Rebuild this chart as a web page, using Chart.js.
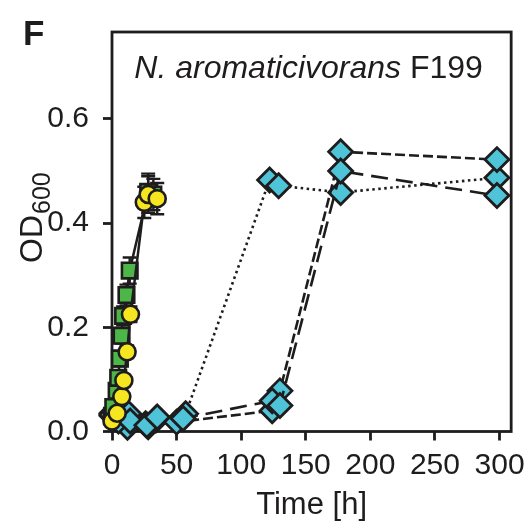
<!DOCTYPE html>
<html>
<head>
<meta charset="utf-8">
<script src="https://cdn.jsdelivr.net/npm/chart.js@4/dist/chart.umd.min.js"></script>
<style>
  html, body { margin: 0; padding: 0; background: #fff; }
  #wrap { width: 532px; height: 522px; }
</style>
</head>
<body>
<div id="wrap"><canvas id="growthchart" width="532" height="522"></canvas></div>
<script>
// tick labels
const xTicks = [0, 50, 100, 150, 200, 250, 300];
const yTicks = [0.0, 0.2, 0.4, 0.6];

// green squares (solid line)
const squareTime = [0, 1, 3.6, 4.8, 6.1, 7.4, 8.6, 11.2, 13.7, 28, 32];
const squareOD   = [0.03, 0.047, 0.078, 0.103, 0.14, 0.184, 0.222, 0.262, 0.309, 0.46, 0.455];
const squareErr  = [0.005, 0.008, 0.01, 0.012, 0.015, 0.015, 0.018, 0.02, 0.025, 0.035, 0.03];

// yellow circles (solid line)
const circleTime = [0, 4, 7.6, 9.2, 11.7, 14.3, 25, 28, 35];
const circleOD   = [0.02, 0.035, 0.067, 0.098, 0.153, 0.225, 0.44, 0.455, 0.447];
const circleErr  = [0.005, 0.006, 0.008, 0.01, 0.012, 0.015, 0.03, 0.035, 0.03];

// cyan diamonds, three replicates
const dottedTime = [0, 5, 13, 26, 34, 57, 122, 129, 177, 298];
const dottedOD   = [0.035, 0.03, 0.034, 0.015, 0.025, 0.034, 0.483, 0.472, 0.459, 0.487];
const shortTime  = [0, 5, 12, 28, 34, 50, 124, 130, 177, 298];
const shortOD    = [0.03, 0.025, 0.008, 0.009, 0.022, 0.018, 0.04, 0.078, 0.537, 0.522];
const longTime   = [0, 5, 14, 27, 35, 55, 124, 130, 177, 298];
const longOD     = [0.032, 0.02, 0.02, 0.012, 0.028, 0.025, 0.059, 0.05, 0.5, 0.453];

const ink = '#1e1c1d';
const fontFamily = '"Liberation Sans", Arial, sans-serif';
const pts = (xs, ys) => xs.map((x, i) => ({ x: x, y: ys[i] }));

function diamonds(xs, ys, dash, order) {
  return {
    data: pts(xs, ys),
    borderColor: ink,
    borderWidth: 2.6,
    borderDash: dash,
    pointStyle: 'rectRot',
    pointRadius: 12,
    pointBackgroundColor: '#4fc3d7',
    pointBorderColor: ink,
    pointBorderWidth: 2.8,
    order: order
  };
}

// vertical error bars with caps
const errorBars = {
  id: 'errorBars',
  beforeDatasetsDraw(chart) {
    const ctx = chart.ctx;
    const xs = chart.scales.x, ys = chart.scales.y;
    ctx.save();
    ctx.strokeStyle = ink;
    ctx.lineWidth = 2.4;
    chart.data.datasets.forEach(ds => {
      if (!ds.errors) return;
      ds.data.forEach((p, i) => {
        const px = xs.getPixelForValue(p.x);
        const top = ys.getPixelForValue(p.y + ds.errors[i]);
        const bot = ys.getPixelForValue(p.y - ds.errors[i]);
        ctx.beginPath();
        ctx.moveTo(px, top); ctx.lineTo(px, bot);
        ctx.moveTo(px - 7, top); ctx.lineTo(px + 7, top);
        ctx.moveTo(px - 7, bot); ctx.lineTo(px + 7, bot);
        ctx.stroke();
      });
    });
    ctx.restore();
  }
};

// frame, panel letter, inner title, y axis title with subscript
const decorations = {
  id: 'decorations',
  beforeDatasetsDraw(chart) {
    const ctx = chart.ctx;
    const a = chart.chartArea;
    ctx.save();
    ctx.strokeStyle = ink;
    ctx.lineWidth = 2.8;
    ctx.strokeRect(a.left, a.top, a.right - a.left, a.bottom - a.top);
    ctx.restore();
  },
  afterDraw(chart) {
    const ctx = chart.ctx;
    const a = chart.chartArea;
    ctx.save();
    ctx.fillStyle = ink;
    ctx.textBaseline = 'alphabetic';

    ctx.font = 'bold 35px ' + fontFamily;
    ctx.fillText('F', 23, 45);

    const italicPart = 'N. aromaticivorans ';
    const plainPart = 'F199';
    ctx.font = 'italic 32px ' + fontFamily;
    const w1 = ctx.measureText(italicPart).width;
    ctx.font = '32px ' + fontFamily;
    const w2 = ctx.measureText(plainPart).width;
    const tx = (a.left + a.right) / 2 - (w1 + w2) / 2 - 3;
    ctx.font = 'italic 32px ' + fontFamily;
    ctx.fillText(italicPart, tx, 78);
    ctx.font = '32px ' + fontFamily;
    ctx.fillText(plainPart, tx + w1, 78);

    ctx.translate(42, 263);
    ctx.rotate(-Math.PI / 2);
    ctx.font = '32px ' + fontFamily;
    ctx.fillText('OD', 0, 0);
    const wod = ctx.measureText('OD').width;
    ctx.font = '25px ' + fontFamily;
    ctx.fillText('600', wod + 1, 8);
    ctx.restore();
  }
};

const tickFont = { family: fontFamily, size: 30 };

new Chart(document.getElementById('growthchart'), {
  type: 'line',
  data: {
    datasets: [
      {
        data: pts(circleTime, circleOD),
        errors: circleErr,
        borderColor: ink,
        borderWidth: 2.5,
        pointStyle: 'circle',
        pointRadius: 8.5,
        pointBackgroundColor: '#f5e620',
        pointBorderColor: ink,
        pointBorderWidth: 2.6,
        order: 1
      },
      {
        data: pts(squareTime, squareOD),
        errors: squareErr,
        borderColor: ink,
        borderWidth: 2.5,
        pointStyle: 'rect',
        pointRadius: 11,
        pointBackgroundColor: '#4cb748',
        pointBorderColor: ink,
        pointBorderWidth: 2.6,
        order: 2
      },
      diamonds(longTime, longOD, [17, 8], 3),
      diamonds(shortTime, shortOD, [10, 4], 4),
      diamonds(dottedTime, dottedOD, [2.5, 3.5], 5)
    ]
  },
  options: {
    responsive: false,
    animation: false,
    clip: false,
    layout: { padding: { left: 0, top: 23, right: 15, bottom: 0 } },
    plugins: { legend: { display: false }, tooltip: { enabled: false } },
    elements: { line: { tension: 0, fill: false } },
    scales: {
      x: {
        type: 'linear',
        min: 0,
        max: 309,
        afterBuildTicks: s => { s.ticks = xTicks.map(v => ({ value: v })); },
        afterFit: s => { s.height = 90.5; },
        border: { display: false },
        grid: { drawOnChartArea: false, tickLength: 9, tickWidth: 2.8, tickColor: ink },
        ticks: { color: ink, font: tickFont, padding: 7, maxRotation: 0 },
        title: {
          display: true,
          text: 'Time [h]',
          color: ink,
          font: { family: fontFamily, size: 31, lineHeight: 1.0 },
          padding: { top: 0, bottom: 1 }
        }
      },
      y: {
        type: 'linear',
        min: 0,
        max: 0.767,
        afterBuildTicks: s => { s.ticks = yTicks.map(v => ({ value: v })); },
        afterFit: s => { s.width = 112; },
        border: { display: false },
        grid: { drawOnChartArea: false, tickLength: 9, tickWidth: 2.8, tickColor: ink },
        ticks: { color: ink, font: tickFont, padding: 14, callback: v => v.toFixed(1) }
      }
    }
  },
  plugins: [errorBars, decorations]
});
</script>
</body>
</html>
